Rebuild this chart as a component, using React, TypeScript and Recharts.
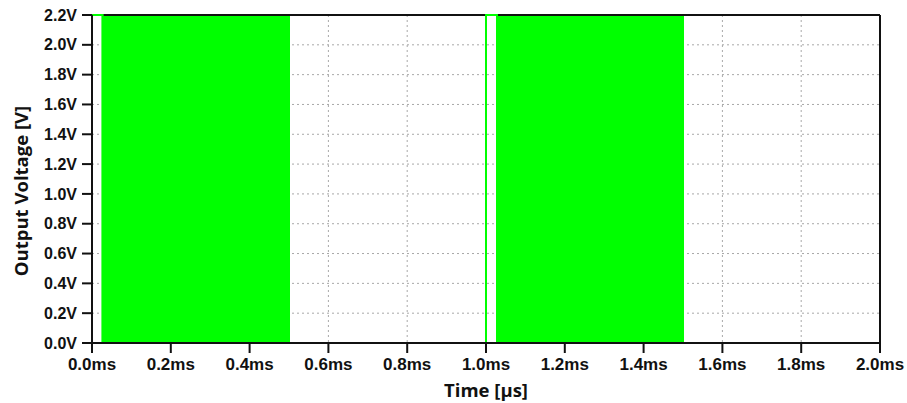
import {
  Area,
  CartesianGrid,
  ComposedChart,
  Line,
  ReferenceLine,
  XAxis,
  YAxis,
} from "recharts";

// Output trace edges (time in ms, level in V)
const traceTime = [0, 0, 0.027, 0.027, 1.0, 1.0, 1.028, 1.028, 2.0];
const traceVolt = [0, 2.2, 2.2, 0, 0, 2.2, 2.2, 0, 0];

// Switching bursts: too fast to resolve, they show as solid blocks
const burstStart = [0.027, 1.028];
const burstEnd = [0.5, 1.5];
const burstHigh = 2.2;

const xTicks = [0, 0.2, 0.4, 0.6, 0.8, 1.0, 1.2, 1.4, 1.6, 1.8, 2.0];
const yTicks = [0, 0.2, 0.4, 0.6, 0.8, 1.0, 1.2, 1.4, 1.6, 1.8, 2.0, 2.2];

const GREEN = "#00ff00";
const TICK_FONT = "'Liberation Sans', Arial, sans-serif";
const TITLE_FONT = "'Open Sans', 'Liberation Sans', sans-serif";

const trace = traceTime.map((t, i) => ({ t, v: traceVolt[i] }));

const bursts = burstStart.flatMap((s, i) => [
  { t: s, v: 0 },
  { t: s, v: burstHigh },
  { t: burstEnd[i], v: burstHigh },
  { t: burstEnd[i], v: 0 },
]);

const xTickStyle = {
  fill: "#111",
  fontFamily: TICK_FONT,
  fontWeight: 700,
  fontSize: 17,
};

const yTickStyle = { ...xTickStyle, fontSize: 16 };

const titleStyle = {
  fill: "#111",
  fontFamily: TITLE_FONT,
  fontWeight: 700,
  fontSize: 18.5,
};

// Vertical axis title, centred a little below the plot middle
function VoltageTitle() {
  return (
    <text
      x={20}
      y={191}
      transform="rotate(-90, 20, 191)"
      textAnchor="middle"
      dominantBaseline="central"
      style={titleStyle}
    >
      Output Voltage [V]
    </text>
  );
}

export default function App() {
  return (
    <div style={{ position: "absolute", left: 0, top: 0, background: "#fff" }}>
      <ComposedChart
        width={907}
        height={403}
        margin={{ top: 15, right: 27, bottom: 0, left: 0 }}
      >
        <CartesianGrid stroke="#a8a8a8" strokeDasharray="2 3" />
        <ReferenceLine y={2.2} stroke="#111" strokeWidth={2} />
        <ReferenceLine x={2.0} stroke="#111" strokeWidth={2} />
        <XAxis
          type="number"
          dataKey="t"
          domain={[0, 2]}
          ticks={xTicks}
          allowDuplicatedCategory={false}
          tickFormatter={(v: number) => `${v.toFixed(1)}ms`}
          tick={xTickStyle}
          tickSize={10}
          tickMargin={5}
          stroke="#111"
          strokeWidth={2}
          height={60}
          label={{
            value: "Time [µs]",
            position: "insideBottom",
            offset: 6,
            style: titleStyle,
          }}
        />
        <YAxis
          type="number"
          domain={[0, 2.2]}
          ticks={yTicks}
          tickFormatter={(v: number) => `${v.toFixed(1)}V`}
          tick={yTickStyle}
          tickSize={10}
          tickMargin={5}
          stroke="#111"
          strokeWidth={2}
          width={92}
          label={<VoltageTitle />}
        />
        <Area
          data={bursts}
          dataKey="v"
          type="linear"
          fill={GREEN}
          fillOpacity={1}
          stroke={GREEN}
          strokeWidth={2}
          isAnimationActive={false}
        />
        <Line
          data={trace}
          dataKey="v"
          type="linear"
          stroke={GREEN}
          strokeWidth={2}
          dot={false}
          isAnimationActive={false}
        />
      </ComposedChart>
    </div>
  );
}
